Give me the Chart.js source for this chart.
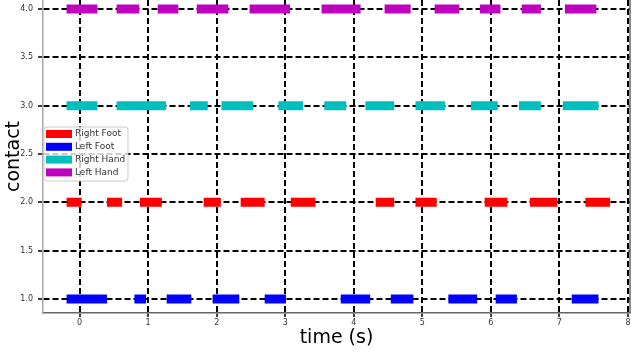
<!DOCTYPE html>
<html>
<head>
<meta charset="utf-8">
<script src="https://cdn.jsdelivr.net/npm/chart.js@4"></script>
<style>
  html, body { margin: 0; padding: 0; background: #fff; }
  #wrap { width: 638px; height: 353px; }
</style>
</head>
<body>
<div id="wrap"><canvas id="gaitChart" width="638" height="353"></canvas></div>
<script>
// contact intervals [start, end] in seconds
const rightFoot = [[-0.19, 0.03], [0.40, 0.62], [0.88, 1.20], [1.81, 2.06], [2.35, 2.70], [3.08, 3.44],
                   [4.32, 4.59], [4.90, 5.21], [5.91, 6.24], [6.57, 6.97], [7.38, 7.74]];
const leftFoot  = [[-0.19, 0.40], [0.80, 0.97], [1.27, 1.63], [1.94, 2.33], [2.70, 3.01],
                   [3.81, 4.24], [4.54, 4.87], [5.38, 5.80], [6.07, 6.38], [7.18, 7.57]];
const rightHand = [[-0.19, 0.26], [0.54, 1.26], [1.61, 1.87], [2.07, 2.53], [2.90, 3.26],
                   [3.57, 3.89], [4.17, 4.59], [4.90, 5.33], [5.71, 6.10], [6.41, 6.73], [7.05, 7.57]];
const leftHand  = [[-0.19, 0.26], [0.54, 0.87], [1.14, 1.44], [1.71, 2.17], [2.48, 3.07],
                   [3.53, 4.10], [4.45, 4.83], [5.18, 5.54], [5.84, 6.14], [6.45, 6.73], [7.08, 7.54]];

const limbNames  = ['Right Foot', 'Left Foot', 'Right Hand', 'Left Hand'];
const limbLevels = [2, 1, 3, 4];
const limbColors = ['#ff0000', '#0000ff', '#00bfbf', '#bf00bf'];
const limbData   = [rightFoot, leftFoot, rightHand, leftHand];

const xTicks = [0, 1, 2, 3, 4, 5, 6, 7, 8];
const yTicks = [1.0, 1.5, 2.0, 2.5, 3.0, 3.5, 4.0];

function toPoints(pairs, level) {
    const pts = [];
    pairs.forEach(([s, e]) => {
        pts.push({ x: s, y: level }, { x: e, y: level }, { x: e, y: null });
    });
    return pts;
}

const datasets = limbNames.map((name, i) => ({
    label: name,
    data: toPoints(limbData[i], limbLevels[i]),
    borderColor: limbColors[i],
    backgroundColor: limbColors[i],
    borderWidth: 9,
    borderCapStyle: 'butt',
    pointRadius: 0,
    spanGaps: false,
    tension: 0
}));

// legend box drawn inside the plot, plus the right frame line
const framePlugin = {
    id: 'frameAndLegend',
    afterDatasetsDraw(chart) {
        const { ctx, chartArea } = chart;
        ctx.save();
        ctx.strokeStyle = '#666';
        ctx.lineWidth = 1.5;
        ctx.beginPath();
        ctx.moveTo(chartArea.right, chartArea.top);
        ctx.lineTo(chartArea.right, chartArea.bottom);
        ctx.stroke();

        // legend
        const bx = 44, by = 127, bw = 84, bh = 54, r = 3;
        ctx.fillStyle = 'rgba(255,255,255,0.8)';
        ctx.strokeStyle = '#cccccc';
        ctx.lineWidth = 1;
        ctx.beginPath();
        ctx.moveTo(bx + r, by);
        ctx.arcTo(bx + bw, by, bx + bw, by + bh, r);
        ctx.arcTo(bx + bw, by + bh, bx, by + bh, r);
        ctx.arcTo(bx, by + bh, bx, by, r);
        ctx.arcTo(bx, by, bx + bw, by, r);
        ctx.closePath();
        ctx.fill();
        ctx.stroke();

        ctx.font = '9px "DejaVu Sans"';
        ctx.textBaseline = 'middle';
        ctx.textAlign = 'left';
        chart.data.datasets.forEach((ds, i) => {
            const cy = 134 + i * 12.8;
            ctx.fillStyle = ds.borderColor;
            ctx.fillRect(46, cy - 4, 26, 8);
            ctx.fillStyle = '#333';
            ctx.fillText(ds.label, 75, cy);
        });
        ctx.restore();
    }
};

new Chart(document.getElementById('gaitChart').getContext('2d'), {
    type: 'line',
    data: { datasets },
    options: {
        responsive: false,
        animation: false,
        layout: { padding: { left: 0, right: 8, top: 0, bottom: 0 } },
        plugins: { legend: { display: false }, tooltip: { enabled: false } },
        scales: {
            x: {
                type: 'linear',
                min: -0.534,
                max: 8.03,
                afterBuildTicks: (scale) => { scale.ticks = xTicks.map(v => ({ value: v })); },
                afterFit: (scale) => { scale.height = 40; scale.paddingLeft = 0; scale.paddingRight = 0; },
                grid: {
                    color: '#000',
                    lineWidth: 2,
                    drawTicks: true,
                    tickLength: 4,
                    tickColor: '#000',
                    tickWidth: 1.5
                },
                border: { display: true, color: '#666', width: 1.5, dash: [6, 3] },
                ticks: {
                    padding: 1,
                    color: '#333',
                    font: { family: 'DejaVu Sans', size: 8 },
                    callback: (v) => String(v)
                },
                title: {
                    display: true,
                    text: 'time (s)',
                    color: '#000',
                    font: { family: 'DejaVu Sans', size: 19 },
                    padding: { top: 0, bottom: 4 }
                }
            },
            y: {
                type: 'linear',
                min: 0.855,
                max: 4.093,
                afterBuildTicks: (scale) => { scale.ticks = yTicks.map(v => ({ value: v })); },
                afterFit: (scale) => { scale.width = 43; scale.paddingTop = 0; scale.paddingBottom = 0; },
                grid: {
                    color: '#000',
                    lineWidth: 2,
                    drawTicks: true,
                    tickLength: 5,
                    tickColor: '#000',
                    tickWidth: 1.5
                },
                border: { display: true, color: '#aaa', width: 1.5, dash: [6, 3] },
                ticks: {
                    padding: 5,
                    color: '#333',
                    font: { family: 'DejaVu Sans', size: 8 },
                    callback: (v) => Number(v).toFixed(1)
                },
                title: {
                    display: true,
                    text: 'contact',
                    color: '#000',
                    font: { family: 'DejaVu Sans', size: 19 },
                    padding: { top: 3, bottom: 0 }
                }
            }
        }
    },
    plugins: [framePlugin]
});
</script>
</body>
</html>
